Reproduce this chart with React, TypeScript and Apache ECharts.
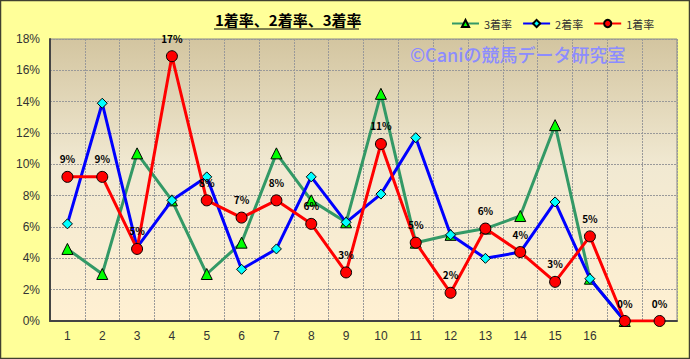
import React, { useEffect, useRef } from "react";
import * as echarts from "echarts";

const categories = ["1", "2", "3", "4", "5", "6", "7", "8", "9", "10", "11", "12", "13", "14", "15", "16", "", ""];
const yTicks = [0, 2, 4, 6, 8, 10, 12, 14, 16, 18];
const seriesNames = ["3着率", "2着率", "1着率"];
const place3 = [4.6, 3.0, 10.7, 7.7, 3.0, 5.0, 10.7, 7.7, 6.3, 14.5, 5.0, 5.5, 5.9, 6.7, 12.5, 2.7, 0, null];
const place2 = [6.2, 13.9, 4.7, 7.7, 9.2, 3.3, 4.6, 9.2, 6.3, 8.1, 11.7, 5.5, 4.0, 4.4, 7.6, 2.7, 0, null];
const place1 = [9.2, 9.2, 4.6, 16.9, 7.7, 6.6, 7.7, 6.2, 3.1, 11.3, 5.0, 1.8, 5.9, 4.4, 2.5, 5.4, 0, 0];
const titleText = "1着率、2着率、3着率";
const watermark = "©Caniの競馬データ研究室";

export default function App() {
  const ref = useRef<HTMLDivElement>(null);
  useEffect(() => {
    if (!ref.current) return;
    const chart = echarts.init(ref.current, null, { renderer: "svg" });
    const jp = "'Noto Sans CJK JP', sans-serif";
    const lat = "'Liberation Sans', Arial, sans-serif";
    chart.setOption({
      animation: false,
      backgroundColor: "#FFFF99",
      legend: {
        left: 446,
        top: 13,
        itemWidth: 27,
        itemHeight: 9,
        itemGap: 10,
        textStyle: { fontFamily: jp, fontSize: 11, color: "#333" },
        data: seriesNames,
      },
      grid: {
        left: 50,
        right: 13,
        top: 39,
        bottom: 38,
        show: true,
        borderColor: "#888",
        borderWidth: 1,
        backgroundColor: new echarts.graphic.LinearGradient(0, 0, 0, 1, [
          { offset: 0, color: "#D3C5A0" },
          { offset: 0.45, color: "#F1E9D2" },
          { offset: 1, color: "#FFF0D2" },
        ]),
      },
      xAxis: {
        type: "category",
        data: categories,
        boundaryGap: true,
        axisLine: { lineStyle: { color: "#444", width: 2 } },
        axisTick: { inside: true, length: 4, lineStyle: { color: "#444" } },
        axisLabel: { color: "#333", fontFamily: lat, fontSize: 12, margin: 9 },
        splitLine: { show: true, lineStyle: { color: "#999", type: [2, 1], width: 1 } },
      },
      yAxis: {
        type: "value",
        min: yTicks[0],
        max: yTicks[yTicks.length - 1],
        interval: 2,
        axisLine: { show: true, lineStyle: { color: "#444", width: 2 } },
        axisTick: { show: false },
        axisLabel: { color: "#333", fontFamily: lat, fontSize: 12, margin: 10, formatter: (v: number) => v + "%" },
        splitLine: { show: true, lineStyle: { color: "#999", type: [2, 1], width: 1 } },
      },
      graphic: [
        {
          type: "text",
          left: 215,
          top: 12,
          style: { text: titleText, font: `bold 15px ${jp}`, fill: "#000" },
        },
        { type: "line", shape: { x1: 214, y1: 29, x2: 359, y2: 29 }, style: { stroke: "#000", lineWidth: 1 } },
        {
          type: "text",
          left: 410,
          top: 45,
          z: 1,
          style: { text: watermark, font: `500 18px ${jp}`, fill: "#8C8CFF" },
        },
        {
          type: "rect",
          shape: { x: 0.5, y: 0.5, width: 689, height: 358 },
          style: { fill: "none", stroke: "#404030", lineWidth: 1.5 },
        },
      ],
      series: [
        {
          name: seriesNames[0],
          type: "line",
          data: place3,
          symbol: "triangle",
          symbolSize: 11,
          lineStyle: { color: "#339966", width: 3 },
          itemStyle: { color: "#00FF00", borderColor: "#000", borderWidth: 1 },
          z: 3,
        },
        {
          name: seriesNames[1],
          type: "line",
          data: place2,
          symbol: "diamond",
          symbolSize: 10,
          lineStyle: { color: "#0000FF", width: 3 },
          itemStyle: { color: "#00FFFF", borderColor: "#000", borderWidth: 1 },
          z: 4,
        },
        {
          name: seriesNames[2],
          type: "line",
          data: place1,
          symbol: "circle",
          symbolSize: 11,
          lineStyle: { color: "#FF0000", width: 3 },
          itemStyle: { color: "#FF0000", borderColor: "#000", borderWidth: 1 },
          label: {
            show: true,
            position: "top",
            distance: 7,
            fontFamily: jp,
            fontSize: 10,
            fontWeight: "bold",
            color: "#000",
            formatter: (p: any) => Math.round(p.value) + "%",
          },
          z: 5,
        },
      ],
    });
    return () => chart.dispose();
  }, []);
  return <div ref={ref} style={{ position: "fixed", left: 0, top: 0, width: 690, height: 359 }} />;
}
